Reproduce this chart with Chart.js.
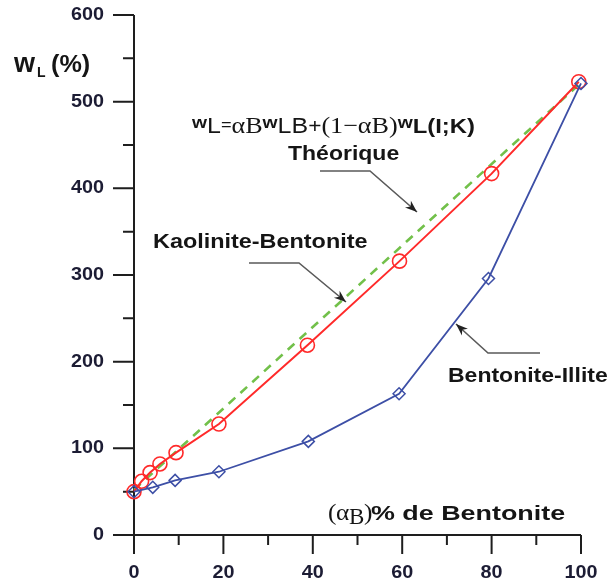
<!DOCTYPE html>
<html><head><meta charset="utf-8">
<script src="https://cdn.jsdelivr.net/npm/chart.js@4.4.0/dist/chart.umd.min.js"></script>
<style>html,body{margin:0;padding:0;background:#fff;} #wrap{width:609px;height:582px;position:relative;}</style>
</head><body><div id="wrap"><canvas id="c" width="609" height="582"></canvas></div>
<script>
// ---- data ----
const kaoliniteX = [0, 1.7, 3.6, 5.8, 9.4, 19, 38.8, 59.4, 80, 99.5];
const kaoliniteY = [50, 62, 72, 82, 95, 128, 219, 316, 417, 523];
const illiteX = [0, 4.2, 9.2, 19, 39, 59.3, 79.3, 100];
const illiteY = [50, 55, 63, 73, 108, 163, 296, 521];
const theoX = [0, 100];
const theoY = [52, 522];
const xMajor = [0, 20, 40, 60, 80, 100];
const xMinor = [10, 30, 50, 70, 90];
const yMajor = [0, 100, 200, 300, 400, 500, 600];
const yMinor = [50, 150, 250, 350, 450, 550];

const pts = (xs, ys) => xs.map((x, i) => ({x: x, y: ys[i]}));
const SANS = '"Liberation Sans", Arial, sans-serif';
const SERIF = '"Liberation Serif", "Times New Roman", serif';
const INK = '#151515';

function txt(ctx, s, x, y, font, align, sx, color) {
  ctx.save();
  ctx.font = font;
  ctx.fillStyle = color || INK;
  ctx.textAlign = align || 'left';
  ctx.textBaseline = 'alphabetic';
  ctx.translate(x, y);
  ctx.scale(sx || 1, 1);
  ctx.fillText(s, 0, 0);
  ctx.restore();
}
function txtMid(ctx, s, x, y, font, align, sx, color) {
  ctx.save();
  ctx.font = font;
  ctx.fillStyle = color || INK;
  ctx.textAlign = align || 'left';
  ctx.textBaseline = 'middle';
  ctx.translate(x, y);
  ctx.scale(sx || 1, 1);
  ctx.fillText(s, 0, 0);
  ctx.restore();
}
// run of mixed-font segments: [text, font, dy]
function runs(ctx, segs, x, y, sx) {
  ctx.save();
  ctx.fillStyle = INK;
  ctx.textBaseline = 'alphabetic';
  ctx.translate(x, y);
  ctx.scale(sx, 1);
  let cx = 0;
  segs.forEach(s => {
    ctx.font = s[1];
    ctx.fillText(s[0], cx, s[2] || 0);
    cx += ctx.measureText(s[0]).width;
  });
  ctx.restore();
}
function arrow(ctx, p) {
  ctx.save();
  ctx.strokeStyle = '#5a5a5a';
  ctx.lineWidth = 1.6;
  ctx.beginPath();
  ctx.moveTo(p[0][0], p[0][1]);
  for (let i = 1; i < p.length; i++) ctx.lineTo(p[i][0], p[i][1]);
  ctx.stroke();
  const a = p[p.length - 2], b = p[p.length - 1];
  const ang = Math.atan2(b[1] - a[1], b[0] - a[0]);
  const L = 12, W = 4.5;
  ctx.fillStyle = '#222';
  ctx.beginPath();
  ctx.moveTo(b[0], b[1]);
  ctx.lineTo(b[0] - L * Math.cos(ang) + W * Math.sin(ang), b[1] - L * Math.sin(ang) - W * Math.cos(ang));
  ctx.lineTo(b[0] - L * Math.cos(ang) * 0.7, b[1] - L * Math.sin(ang) * 0.7);
  ctx.lineTo(b[0] - L * Math.cos(ang) - W * Math.sin(ang), b[1] - L * Math.sin(ang) + W * Math.cos(ang));
  ctx.closePath();
  ctx.fill();
  ctx.restore();
}

const axesPlugin = {
  id: 'axesPlugin',
  beforeDatasetsDraw(chart) {
    const ctx = chart.ctx, xs = chart.scales.x, ys = chart.scales.y;
    const x0 = xs.getPixelForValue(0), y0 = ys.getPixelForValue(0);
    const xEnd = xs.getPixelForValue(100), yTop = ys.getPixelForValue(600);
    ctx.save();
    ctx.strokeStyle = '#1e1e1e';
    ctx.lineWidth = 2;
    ctx.lineCap = 'butt';
    ctx.beginPath();
    ctx.moveTo(x0, yTop); ctx.lineTo(x0, y0 + 19);
    ctx.moveTo(x0 - 21, y0); ctx.lineTo(xEnd, y0);
    yMajor.forEach(v => { const y = ys.getPixelForValue(v); ctx.moveTo(x0 - 21, y); ctx.lineTo(x0, y); });
    yMinor.forEach(v => { const y = ys.getPixelForValue(v); ctx.moveTo(x0 - 11, y); ctx.lineTo(x0, y); });
    xMajor.forEach(v => { const x = xs.getPixelForValue(v); ctx.moveTo(x, y0); ctx.lineTo(x, y0 + 19); });
    xMinor.forEach(v => { const x = xs.getPixelForValue(v); ctx.moveTo(x, y0); ctx.lineTo(x, y0 + 10); });
    ctx.stroke();
    ctx.restore();
    const tf = 'bold 18px ' + SANS;
    yMajor.forEach(v => txtMid(ctx, String(v), 104, ys.getPixelForValue(v), tf, 'right', 1.1, '#1c1c34'));
    xMajor.forEach(v => txtMid(ctx, String(v), xs.getPixelForValue(v), 573, tf, 'center', 1.1, '#1c1c34'));
  },
  afterDraw(chart) {
    const ctx = chart.ctx;
    // y axis title
    txt(ctx, 'w', 14, 72, 'bold 27px ' + SANS, 'left', 1.0);
    txt(ctx, 'L', 37, 77, 'bold 14px ' + SANS, 'left', 1.0);
    txt(ctx, '(%)', 51, 72, 'bold 24px ' + SANS, 'left', 1.05);
    // formula
    runs(ctx, [
      ['w', 'bold 17px ' + SANS, -5],
      ['L', '22px ' + SANS, 0],
      ['=', '16px ' + SANS, -3],
      ['\u03B1', '23px ' + SERIF, 0],
      ['B', '23px ' + SERIF, 0],
      ['w', 'bold 17px ' + SANS, -5],
      ['LB', '22px ' + SANS, 0],
      ['+', '20px ' + SANS, 0],
      ['(1\u2212', '23px ' + SERIF, 0],
      ['\u03B1', '23px ' + SERIF, 0],
      ['B', '23px ' + SERIF, 0],
      [')', '23px ' + SERIF, 0],
      ['w', 'bold 17px ' + SANS, -5],
      ['L(I;K)', 'bold 21px ' + SANS, 0]
    ], 192, 133, 1.135);
    const af = 'bold 20px ' + SANS;
    txt(ctx, 'Th\u00E9orique', 288, 160, af, 'left', 1.15);
    txt(ctx, 'Kaolinite-Bentonite', 153, 248, af, 'left', 1.17);
    txt(ctx, 'Bentonite-Illite', 448, 382, af, 'left', 1.15);
    // x axis title
    txt(ctx, '(', 328, 520, '23px ' + SERIF, 'left', 1.1);
    txt(ctx, '\u03B1', 336, 520, '23px ' + SERIF, 'left', 1.1);
    txt(ctx, 'B', 349, 524, '23px ' + SERIF, 'left', 1.0);
    txt(ctx, ')', 364, 520, '23px ' + SERIF, 'left', 1.1);
    txt(ctx, '% de Bentonite', 371, 520, 'bold 21px ' + SANS, 'left', 1.28);
    // arrows
    arrow(ctx, [[320, 171], [370, 171], [417, 212]]);
    arrow(ctx, [[249, 263], [299, 263], [346, 302]]);
    arrow(ctx, [[540, 353], [488, 353], [456, 324]]);
  }
};

new Chart(document.getElementById('c'), {
  type: 'scatter',
  data: {
    datasets: [
      { label: 'Bentonite-Illite', data: pts(illiteX, illiteY), showLine: true, tension: 0,
        borderColor: '#3d4fa6', borderWidth: 1.8, pointStyle: 'rectRot', pointRadius: 6,
        pointBorderWidth: 1.5, pointBackgroundColor: 'rgba(0,0,0,0)', pointBorderColor: '#3d4fa6', order: 1 },
      { label: 'Kaolinite-Bentonite', data: pts(kaoliniteX, kaoliniteY), showLine: true, tension: 0,
        borderColor: '#ff2a2a', borderWidth: 2, pointStyle: 'circle', pointRadius: 7,
        pointBorderWidth: 1.6, pointBackgroundColor: 'rgba(0,0,0,0)', pointBorderColor: '#ff2a2a', order: 2 },
      { label: 'Th\u00E9orique', data: pts(theoX, theoY), showLine: true, tension: 0,
        borderColor: '#72c04a', borderWidth: 2.6, borderDash: [9, 7], pointRadius: 0, order: 3 }
    ]
  },
  options: {
    responsive: false, animation: false, devicePixelRatio: 1,
    layout: { padding: { left: 134, top: 15, right: 28, bottom: 47 } },
    plugins: { legend: { display: false }, tooltip: { enabled: false } },
    scales: {
      x: { type: 'linear', min: 0, max: 100, display: false },
      y: { type: 'linear', min: 0, max: 600, display: false }
    },
    clip: false
  },
  plugins: [axesPlugin]
});
</script></body></html>
